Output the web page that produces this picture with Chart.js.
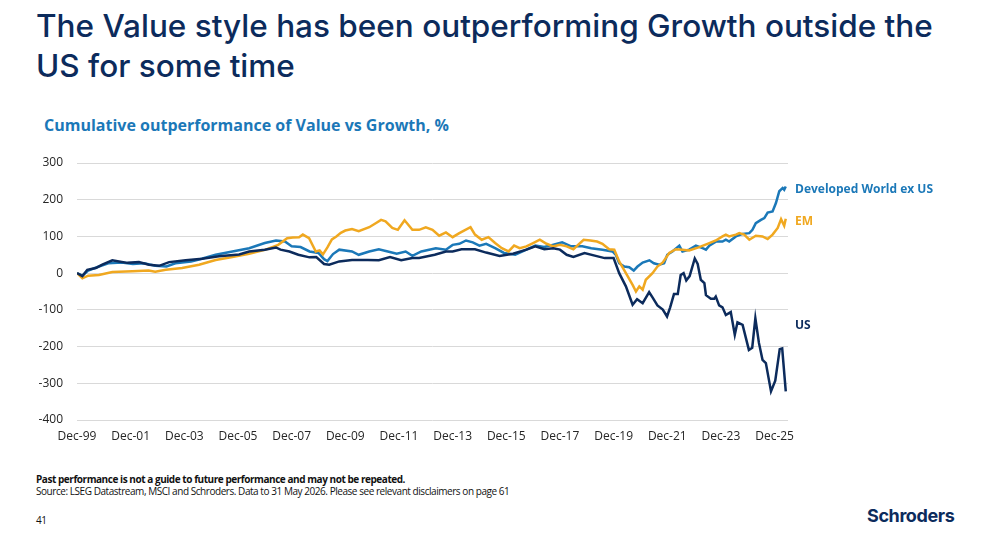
<!DOCTYPE html>
<html>
<head>
<meta charset="utf-8">
<script src="https://cdn.jsdelivr.net/npm/chart.js@4.4.1/dist/chart.umd.min.js"></script>
<style>
  html, body { margin: 0; padding: 0; background: #fff; }
  body { width: 986px; height: 535px; position: relative; overflow: hidden; font-family: "Open Sans", sans-serif; }
  .title { position: absolute; left: 36px; top: 6px; width: 940px; font-family: Inter, sans-serif; font-weight: 500; font-size: 31.5px; line-height: 40px; color: #0c2b5c; }
  .subtitle { position: absolute; left: 44px; top: 114px; font-weight: 700; font-size: 16px; color: #1b78b8; }
  .chart-box { position: absolute; left: 0; top: 150px; width: 986px; height: 300px; }
  .lbl { position: absolute; font-weight: 700; font-size: 12px; white-space: nowrap; }
  .foot { position: absolute; left: 36px; font-size: 10px; color: #111; white-space: nowrap; letter-spacing: -0.45px; }
  .logo { position: absolute; left: 867px; top: 505px; font-family: Inter, sans-serif; font-weight: 700; font-size: 18px; color: #0c2b5c; letter-spacing: -0.4px; }
</style>
</head>
<body>
<div class="title">The Value style has been outperforming Growth outside the<br>US for some time</div>
<div class="subtitle">Cumulative outperformance of Value vs Growth, %</div>
<div class="chart-box"><canvas id="myChart"></canvas></div>
<div class="lbl" style="left:795px;top:180px;color:#1b78b8">Developed World ex US</div>
<div class="lbl" style="left:795px;top:212px;color:#f0a820">EM</div>
<div class="lbl" style="left:795px;top:316px;color:#0c2b5c">US</div>
<div class="foot" style="top:472px;font-weight:700">Past performance is not a guide to future performance and may not be repeated.</div>
<div class="foot" style="top:484px">Source: LSEG Datastream, MSCI and Schroders. Data to 31 May 2026. Please see relevant disclaimers on page 61</div>
<div class="foot" style="top:513px">41</div>
<div class="logo">Schroders</div>
<script>
// x = months since Dec-99, y = cumulative outperformance (%)
const tickLabels = ["Dec-99", "Dec-01", "Dec-03", "Dec-05", "Dec-07", "Dec-09", "Dec-11",
  "Dec-13", "Dec-15", "Dec-17", "Dec-19", "Dec-21", "Dec-23", "Dec-25"];
const tickMonths = [0, 24, 48, 72, 96, 120, 144, 168, 192, 216, 240, 264, 288, 312];

const us = [[0,0],[2.4,-8],[4.6,9],[8.4,14],[11.3,23],[15.8,35],[18.8,32],[22.5,28],[27.7,30],[32.2,23],
  [36.7,20],[41.2,30],[48.6,35],[56,39],[63.5,46],[72.5,51],[77,59],[84,64],[89,70],[91,64],
  [95,59],[99,50],[104,43],[107,44],[110.5,25],[112.8,23],[117.3,32],[123,36],[130,36],[135,35],
  [140,44],[145,35],[150,41],[153,41],[160,50],[165,59],[168,59],[172,65],[178,65],[183,56],
  [189,47],[195,53],[201,64],[205,73],[209,65],[213,68],[216,64],[219,50],[222,44],[227,55],
  [232,47],[236,41],[240,41],[242.5,0],[245.5,-36],[248.5,-86],[250.5,-71],[253,-82],[255.9,-52],[257.4,-66],
  [259.6,-88],[262,-99],[263.9,-118],[265.3,-93],[267,-57],[268.7,-57],[270,-5],[271.3,0],[272.5,-20],[274,-8],
  [276.3,40],[277.6,25],[279,-18],[280.6,-27],[281.3,-60],[283.5,-70],[285,-70],[285.7,-64],[287.2,-88],[288.7,-93],
  [290.2,-114],[292.4,-106],[294.2,-168],[295.4,-134],[297.7,-141],[300.5,-209],[302,-203],[303.4,-123],[305,-190],[306.6,-236],
  [308.1,-245],[310.4,-322],[312.3,-293],[314.3,-207],[315.4,-205],[317,-322]];

const dwexus = [[0,0],[2.4,-7],[5,7],[9.8,18],[14,27],[20,29],[25,25],[30,27],[35,20],[40,18],
  [44,27],[51,32],[55,38],[62,50],[69.5,59],[77,68],[84,82],[89,89],[93,86],[96,73],
  [100,71],[104,59],[108,55],[110.5,38],[112,33],[114.5,52],[117.3,64],[123,59],[126,50],[130.7,59],
  [135,65],[139,59],[143,53],[147,59],[150,47],[154,59],[160.5,68],[165,64],[168,77],[171,80],
  [174,89],[177,84],[180,75],[183,80],[187,68],[191,55],[196,50],[201,64],[205,75],[209,71],
  [212.7,77],[217,84],[221,73],[226,73],[230,68],[235,64],[239.5,59],[241,50],[242.5,27],[244.8,18],
  [247,16],[249,7],[250.7,18],[253,29],[256,35],[258,27],[260.4,23],[262.6,27],[264,50],[266.3,59],
  [269.4,75],[270.8,59],[273.8,64],[276.8,75],[279.8,68],[281.3,64],[282.8,75],[285.7,86],[288.7,86],[290.2,91],
  [291.7,86],[294.7,100],[297.7,107],[300.7,109],[302.1,118],[303.6,136],[305.9,145],[307.4,150],[308.9,165],[311.1,168],
  [312.6,191],[314.1,223],[315.6,232],[316.3,227],[317,236]];

const em = [[0,0],[2.4,-14],[5,-7],[9.8,-5],[15.8,3],[24.8,5],[32,7],[35,4],[39.7,9],[47,14],
  [54.6,23],[62,36],[69.5,44],[77,53],[84.4,64],[90,77],[94,95],[96.5,97],[99.3,98],[101,105],
  [103.8,95],[106.8,59],[108.5,62],[110,51],[112,70],[114,92],[116,100],[118,110],[120,116],[123,120],
  [126,114],[130.7,125],[133.6,136],[136,145],[138,141],[141,123],[143.5,118],[146.5,144],[150,118],[153,118],
  [156,125],[159,118],[162,102],[165,111],[168,98],[171,109],[176,125],[178,105],[181,91],[184,98],
  [187,82],[190,68],[193,59],[195.5,75],[198,68],[201,73],[204,82],[207,91],[210,80],[213,73],
  [216,77],[219,73],[222,65],[226.6,91],[229.6,89],[232.6,86],[235,80],[238,65],[240.3,64],[242.5,32],
  [245.5,0],[248.5,-32],[250,-50],[251.5,-36],[253,-45],[254.4,-18],[257.4,0],[259.6,18],[262,29],[264.9,55],
  [267.8,65],[270.8,64],[273.8,62],[278.3,71],[282.8,82],[285.7,89],[288.7,100],[290.2,105],[291.7,100],[294.7,105],
  [296.2,109],[298.4,105],[300.7,91],[303.6,102],[306.6,100],[308.9,93],[311.1,105],[313.4,123],[314.9,147],[316.3,129],
  [317,148]];

const toPoints = (arr) => arr.map(([m, v]) => ({ x: m, y: v }));

const line = (label, arr, color) => ({
  label: label,
  data: toPoints(arr),
  borderColor: color,
  backgroundColor: color,
  borderWidth: 2.5,
  pointRadius: 0,
  tension: 0,
});

const ctx = document.getElementById("myChart");
new Chart(ctx, {
  type: "line",
  data: {
    datasets: [
      line("US", us, "#0c2b5c"),
      line("EM", em, "#f0a820"),
      line("Developed World ex US", dwexus, "#1b78b8"),
    ],
  },
  options: {
    responsive: true,
    maintainAspectRatio: false,
    animation: false,
    layout: { padding: { left: 0, top: 13, right: 198, bottom: 0 } },
    scales: {
      x: {
        type: "linear",
        min: 0,
        max: 318,
        afterBuildTicks: (axis) => {
          axis.ticks = tickMonths.map((v) => ({ value: v }));
        },
        afterFit: (scale) => {
          scale.height = 30;
        },
        ticks: {
          autoSkip: false,
          maxRotation: 0,
          padding: 9,
          color: "#262626",
          font: { family: "Open Sans", size: 12 },
          callback: (value) => tickLabels[tickMonths.indexOf(value)],
        },
        grid: { display: false, drawTicks: false },
        border: { display: false },
      },
      y: {
        min: -400,
        max: 300,
        afterFit: (scale) => {
          // keep the plot box fixed; label overhang is covered by layout padding
          scale.width = 77;
          scale.paddingTop = 0;
          scale.paddingBottom = 0;
        },
        ticks: {
          stepSize: 100,
          padding: 14,
          color: "#262626",
          font: { family: "Open Sans", size: 12 },
        },
        grid: { color: "#d9d9d9", lineWidth: 1, drawTicks: false },
        border: { display: false },
      },
    },
    plugins: {
      legend: { display: false },
      tooltip: { enabled: false },
    },
  },
});
</script>
</body>
</html>
